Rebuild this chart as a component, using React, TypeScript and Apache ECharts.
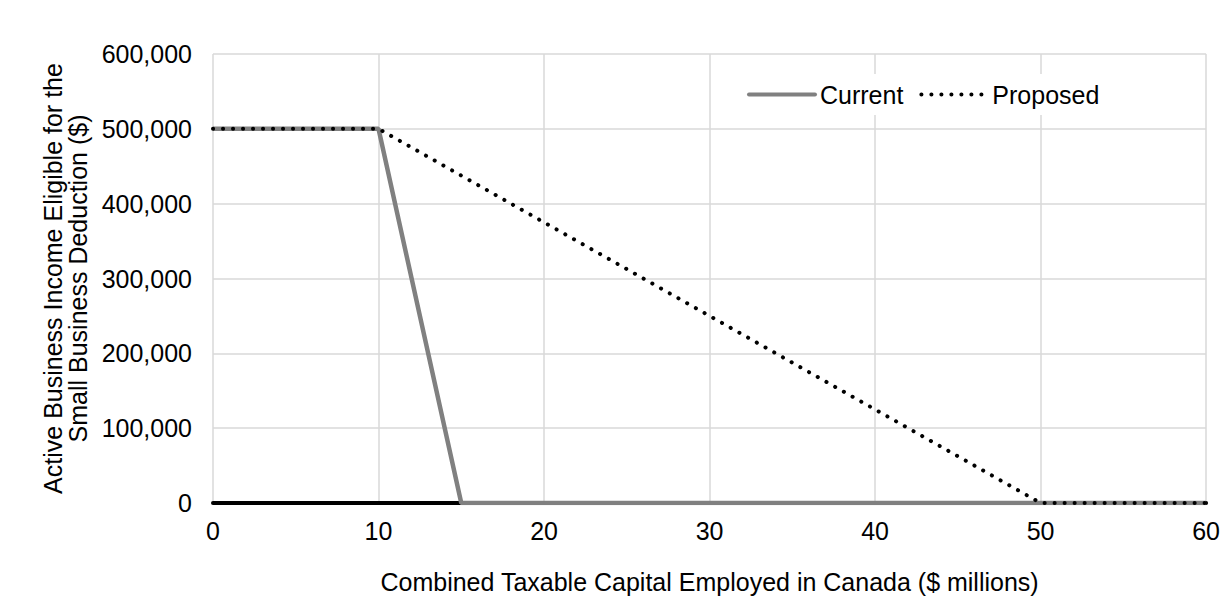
import React, { useEffect, useRef } from "react";
import * as echarts from "echarts";

const currentData: [number, number][] = [
  [0, 500000],
  [10, 500000],
  [15, 0],
  [60, 0],
];
const proposedData: [number, number][] = [
  [0, 500000],
  [10, 500000],
  [50, 0],
  [60, 0],
];
const seriesNames = ["Current", "Proposed"];
const xAxisTitle = "Combined Taxable Capital Employed in Canada ($ millions)";
const yAxisTitle = "Active Business Income Eligible for the\nSmall Business Deduction ($)";

const FONT = "Liberation Sans, Arial, sans-serif";
const FS = 25;

export default function App() {
  const ref = useRef<HTMLDivElement>(null);
  useEffect(() => {
    if (!ref.current) return;
    const chart = echarts.init(ref.current, undefined, { renderer: "svg" });
    chart.setOption({
      animation: false,
      backgroundColor: "#ffffff",
      textStyle: { fontFamily: FONT },
      grid: { left: 205, right: 11, top: 46, bottom: 104, containLabel: false },
      legend: {
        data: seriesNames,
        left: 727,
        top: 66,
        padding: [8, 12, 8, 12],
        backgroundColor: "#ffffff",
        itemWidth: 66,
        itemHeight: 14,
        itemGap: 16,
        itemStyle: { opacity: 0 },
        lineStyle: { width: 4, cap: "round" },
        textStyle: { fontSize: FS, color: "#000", fontFamily: FONT },
      },
      xAxis: {
        type: "value",
        min: 0,
        max: 60,
        interval: 10,
        name: xAxisTitle,
        nameLocation: "middle",
        nameGap: 66,
        nameTextStyle: { fontSize: FS, color: "#000", fontFamily: FONT },
        axisLine: { show: true, onZero: true, lineStyle: { color: "#000", width: 4 } },
        axisTick: { show: false },
        axisLabel: { fontSize: FS, color: "#000", margin: 15, fontFamily: FONT },
        splitLine: { show: true, lineStyle: { color: "#d9d9d9", width: 1.5 } },
      },
      yAxis: {
        type: "value",
        min: 0,
        max: 600000,
        interval: 100000,
        name: yAxisTitle,
        nameLocation: "middle",
        nameGap: 122,
        nameRotate: 90,
        nameTextStyle: { fontSize: FS, color: "#000", fontFamily: FONT, lineHeight: 25 },
        axisLine: { show: false },
        axisTick: { show: false },
        axisLabel: {
          fontSize: FS,
          color: "#000",
          margin: 21,
          fontFamily: FONT,
          formatter: (v: number) => v.toLocaleString("en-US"),
        },
        splitLine: { show: true, lineStyle: { color: "#d9d9d9", width: 1.5 } },
      },
      series: [
        {
          name: seriesNames[0],
          type: "line",
          data: currentData,
          symbol: "none",
          lineStyle: { color: "#808080", width: 4.5 },
          itemStyle: { color: "#808080" },
          z: 2,
        },
        {
          name: seriesNames[1],
          type: "line",
          data: proposedData,
          symbol: "none",
          lineStyle: { color: "#000000", width: 4, type: [0.1, 9.9], cap: "round" },
          itemStyle: { color: "#000000" },
          z: 3,
        },
      ],
    });
    return () => chart.dispose();
  }, []);
  return <div ref={ref} style={{ width: 1215, height: 599 }} />;
}
